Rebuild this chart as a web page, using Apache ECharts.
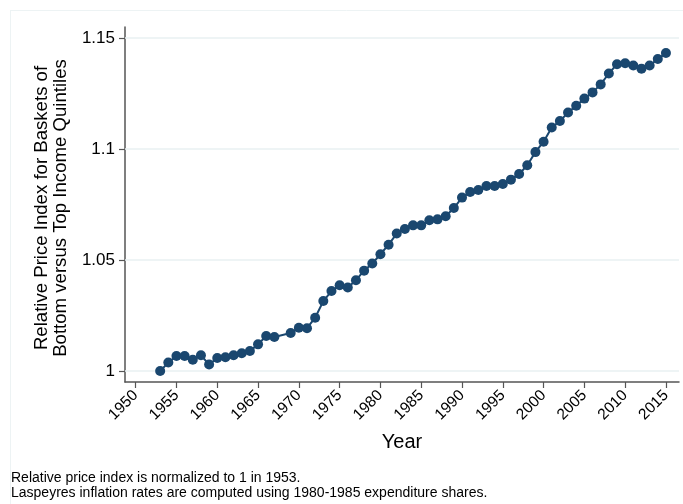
<!DOCTYPE html>
<html>
<head>
<meta charset="utf-8">
<script src="https://cdn.jsdelivr.net/npm/echarts@6/dist/echarts.min.js"></script>
<style>
  html, body { margin: 0; padding: 0; background: #fff; }
  #chart { width: 683px; height: 504px; }
</style>
</head>
<body>
<div id="chart"></div>
<script>
// Years with observations (1968 has no value)
const years = [
  1953, 1954, 1955, 1956, 1957, 1958, 1959, 1960, 1961, 1962, 1963, 1964, 1965, 1966, 1967,
  1969, 1970, 1971, 1972, 1973, 1974, 1975, 1976, 1977, 1978, 1979, 1980, 1981, 1982, 1983,
  1984, 1985, 1986, 1987, 1988, 1989, 1990, 1991, 1992, 1993, 1994, 1995, 1996, 1997, 1998,
  1999, 2000, 2001, 2002, 2003, 2004, 2005, 2006, 2007, 2008, 2009, 2010, 2011, 2012, 2013,
  2014, 2015
];

// Relative price index, bottom vs top income quintile baskets
const relIndex = [
  1.0000, 1.0038, 1.0068, 1.0068, 1.0051, 1.0071, 1.0029, 1.0059, 1.0062, 1.0071, 1.0080, 1.0090, 1.0120, 1.0158, 1.0153,
  1.0171, 1.0195, 1.0193, 1.0240, 1.0315, 1.0360, 1.0386, 1.0376, 1.0409, 1.0452, 1.0484, 1.0526, 1.0569, 1.0619, 1.0640,
  1.0656, 1.0656, 1.0679, 1.0683, 1.0697, 1.0734, 1.0781, 1.0806, 1.0815, 1.0833, 1.0833, 1.0842, 1.0862, 1.0887, 1.0927,
  1.0986, 1.1033, 1.1097, 1.1126, 1.1164, 1.1195, 1.1227, 1.1255, 1.1291, 1.1340, 1.1382, 1.1386, 1.1376, 1.1362, 1.1376,
  1.1405, 1.1432
];

const xTicks = [1950, 1955, 1960, 1965, 1970, 1975, 1980, 1985, 1990, 1995, 2000, 2005, 2010, 2015];
const yTicks = [1, 1.05, 1.1, 1.15];
const yTickLabels = ['1', '1.05', '1.1', '1.15'];

const noteLines = [
  'Relative price index is normalized to 1 in 1953.',
  'Laspeyres inflation rates are computed using 1980-1985 expenditure shares.'
];

const FONT = '"Liberation Sans", Arial, sans-serif';
const NAVY = '#1a476f';
const AXIS = '#555555';
const GRID = '#e8f0f2';

const chart = echarts.init(document.getElementById('chart'), null, { renderer: 'canvas' });

chart.setOption({
  animation: false,
  backgroundColor: '#ffffff',
  grid: { left: 125, right: 4, top: 27, bottom: 122, containLabel: false },
  xAxis: {
    type: 'value',
    min: 1948.69,
    max: 2016.6,
    name: 'Year',
    nameLocation: 'middle',
    nameGap: 50,
    nameTextStyle: { fontFamily: FONT, fontSize: 20, color: '#000' },
    axisLine: { show: true, onZero: false, lineStyle: { color: AXIS, width: 1.5 } },
    axisTick: { show: true, length: 6, customValues: xTicks, lineStyle: { color: AXIS, width: 1.2 } },
    axisLabel: {
      customValues: xTicks,
      rotate: 45,
      margin: 11,
      fontFamily: FONT,
      fontSize: 15.5,
      color: '#000',
      formatter: v => String(Math.round(v))
    },
    splitLine: { show: false }
  },
  yAxis: {
    type: 'value',
    min: 0.99505,
    max: 1.15495,
    name: 'Relative Price Index for Baskets of\nBottom versus Top Income Quintiles',
    nameLocation: 'middle',
    nameRotate: 90,
    nameGap: 51,
    nameTextStyle: { fontFamily: FONT, fontSize: 18.6, color: '#000', lineHeight: 19.5, padding: [0, 7, 0, 0] },
    axisLine: { show: true, onZero: false, lineStyle: { color: AXIS, width: 1.5 } },
    axisTick: { show: true, length: 6, customValues: yTicks, lineStyle: { color: AXIS, width: 1.2 } },
    axisLabel: {
      customValues: yTicks,
      margin: 10,
      fontFamily: FONT,
      fontSize: 17,
      color: '#000',
      formatter: v => yTickLabels[yTicks.findIndex(t => Math.abs(t - v) < 1e-6)] || ''
    },
    splitLine: { show: false }
  },
  series: [{
    type: 'line',
    data: years.map((y, i) => [y, relIndex[i]]),
    symbol: 'circle',
    symbolSize: 10,
    showSymbol: true,
    z: 3,
    lineStyle: { color: NAVY, width: 2 },
    itemStyle: { color: NAVY },
    markLine: {
      silent: true,
      symbol: 'none',
      label: { show: false },
      lineStyle: { color: GRID, width: 1.5, type: 'solid' },
      z: 1,
      data: yTicks.map(t => ({ yAxis: t }))
    }
  }],
  graphic: [
    // light frame of the graph region (top and left edges)
    { type: 'line', shape: { x1: 10, y1: 10.5, x2: 683, y2: 10.5 }, style: { stroke: '#edf3f4', lineWidth: 1 }, silent: true },
    { type: 'line', shape: { x1: 10.5, y1: 10, x2: 10.5, y2: 504 }, style: { stroke: '#edf3f4', lineWidth: 1 }, silent: true },
    {
      type: 'text',
      left: 11,
      top: 471,
      style: {
        text: noteLines.join('\n'),
        font: '14px ' + FONT,
        fill: '#000',
        lineHeight: 15
      }
    }
  ]
});
</script>
</body>
</html>
